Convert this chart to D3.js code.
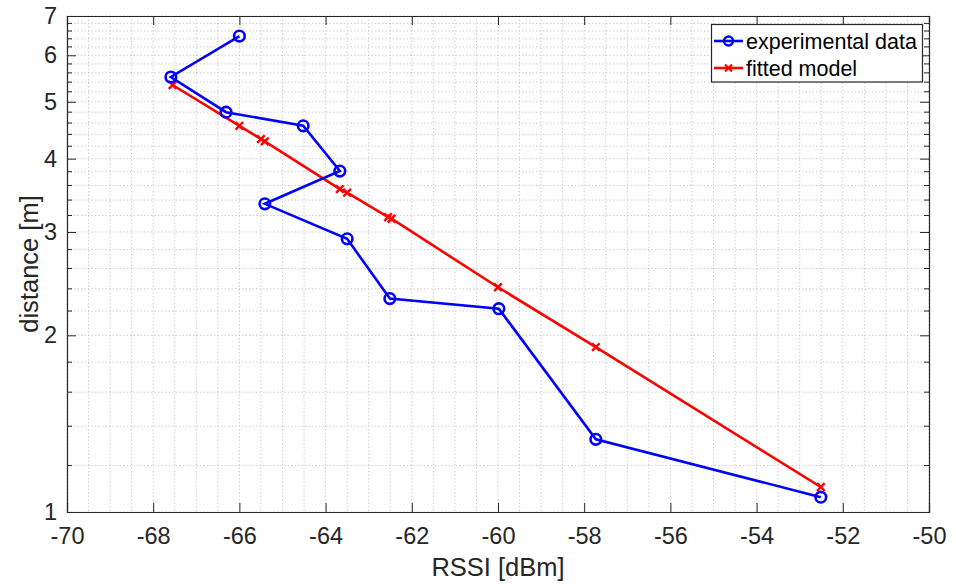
<!DOCTYPE html>
<html>
<head>
<meta charset="utf-8">
<script src="https://cdnjs.cloudflare.com/ajax/libs/d3/7.8.5/d3.min.js"></script>
<style>
  body { margin: 0; background: #fff; }
  text { font-family: "Liberation Sans", Arial, sans-serif; fill: #262626; }
</style>
</head>
<body>
<script>
// experimental data
var expRssi = [-66.0, -67.59, -66.31, -64.52, -63.67, -65.41, -63.5, -62.51, -59.98, -57.73, -52.51];
var expDist = [6.47, 5.51, 4.80, 4.55, 3.81, 3.35, 2.92, 2.31, 2.22, 1.33, 1.06];

// fitted model
var fitRssi = [-67.55, -66.0, -65.5, -65.41, -63.67, -63.5, -62.55, -62.47, -60.0, -57.73, -52.51];
var fitDist = [5.34, 4.55, 4.32, 4.28, 3.55, 3.50, 3.18, 3.16, 2.415, 1.91, 1.103];

var xTicks = [-70, -68, -66, -64, -62, -60, -58, -56, -54, -52, -50];
var yTicks = [1, 2, 3, 4, 5, 6, 7];
var seriesNames = ["experimental data", "fitted model"];

var width = 956, height = 585;
var pLeft = 67, pRight = 929, pTop = 16, pBottom = 512;

var svg = d3.select("body")
            .append("svg")
            .attr("width", width)
            .attr("height", height);

var x = d3.scaleLinear().domain([-70, -50]).range([pLeft, pRight]);
var y = d3.scaleLog().domain([1, 7]).range([pBottom, pTop]);

var fmt = function(d) { return String(d); };

// minor values
var xMinor = d3.range(-70, -49.99, 0.5);
var yMinor = [];
for (var v = 1.2; v < 7; v += 0.2) {
  var r = Math.round(v * 10) / 10;
  if (Math.abs(r - Math.round(r)) > 0.01) yMinor.push(r);
}

var grid = svg.append("g");
grid.selectAll(".gx")
    .data(xMinor)
    .enter()
    .append("line")
    .attr("x1", function(d) { return x(d); })
    .attr("x2", function(d) { return x(d); })
    .attr("y1", pTop)
    .attr("y2", pBottom)
    .attr("stroke", "#cfcfcf")
    .attr("stroke-width", 1)
    .attr("stroke-dasharray", "1.5,2");

grid.selectAll(".gy")
    .data(yMinor.concat(yTicks))
    .enter()
    .append("line")
    .attr("x1", pLeft)
    .attr("x2", pRight)
    .attr("y1", function(d) { return y(d); })
    .attr("y2", function(d) { return y(d); })
    .attr("stroke", "#cfcfcf")
    .attr("stroke-width", 1)
    .attr("stroke-dasharray", "1.5,2");

// axes
var axisColor = "#262626";

var xBottom = svg.append("g")
    .attr("transform", "translate(0," + pBottom + ")")
    .call(d3.axisBottom(x).tickValues(xTicks).tickSize(-9).tickPadding(15).tickFormat(fmt));
var xTop = svg.append("g")
    .attr("transform", "translate(0," + pTop + ")")
    .call(d3.axisTop(x).tickValues(xTicks).tickSize(-9).tickFormat(""));
var yLeft = svg.append("g")
    .attr("transform", "translate(" + pLeft + ",0)")
    .call(d3.axisLeft(y).tickValues(yTicks).tickSize(-9).tickPadding(10).tickFormat(fmt));
var yRight = svg.append("g")
    .attr("transform", "translate(" + pRight + ",0)")
    .call(d3.axisRight(y).tickValues(yTicks).tickSize(-9).tickFormat(""));

// minor y ticks
[[pLeft, 5], [pRight, -5]].forEach(function(s) {
  svg.append("g").selectAll("line")
     .data(yMinor)
     .enter()
     .append("line")
     .attr("x1", s[0])
     .attr("x2", s[0] + s[1])
     .attr("y1", function(d) { return y(d); })
     .attr("y2", function(d) { return y(d); })
     .attr("stroke", axisColor);
});

[xBottom, xTop, yLeft, yRight].forEach(function(a) {
  a.select(".domain").attr("stroke", axisColor).attr("stroke-width", 1.2);
  a.selectAll(".tick line").attr("stroke", axisColor);
  a.selectAll(".tick text")
   .attr("fill", axisColor)
   .style("font-family", "'Liberation Sans', Arial, sans-serif")
   .style("font-size", "23.5px");
});
xBottom.selectAll(".tick text").attr("dy", "0.71em");

// axis labels
svg.append("text")
   .attr("x", (pLeft + pRight) / 2)
   .attr("y", 576)
   .attr("text-anchor", "middle")
   .attr("font-size", "25.5px")
   .text("RSSI [dBm]");

svg.append("text")
   .attr("transform", "translate(38," + ((pTop + pBottom) / 2) + ") rotate(-90)")
   .attr("text-anchor", "middle")
   .attr("font-size", "25.5px")
   .text("distance [m]");

// lines
var line = d3.line()
    .x(function(d) { return x(d[0]); })
    .y(function(d) { return y(d[1]); });

var expPts = expRssi.map(function(d, i) { return [d, expDist[i]]; });
var fitPts = fitRssi.map(function(d, i) { return [d, fitDist[i]]; });

svg.append("path")
   .datum(fitPts)
   .attr("d", line)
   .attr("fill", "none")
   .attr("stroke", "#ff0000")
   .attr("stroke-width", 2.6);

svg.append("g").selectAll("path")
   .data(fitPts)
   .enter()
   .append("path")
   .attr("d", "M-3.8,-3.8L3.8,3.8M-3.8,3.8L3.8,-3.8")
   .attr("transform", function(d) { return "translate(" + x(d[0]) + "," + y(d[1]) + ")"; })
   .attr("stroke", "#ff0000")
   .attr("stroke-width", 2.4);

svg.append("path")
   .datum(expPts)
   .attr("d", line)
   .attr("fill", "none")
   .attr("stroke", "#0000ff")
   .attr("stroke-width", 2.6);

svg.append("g").selectAll("circle")
   .data(expPts)
   .enter()
   .append("circle")
   .attr("cx", function(d) { return x(d[0]); })
   .attr("cy", function(d) { return y(d[1]); })
   .attr("r", 5.3)
   .attr("fill", "none")
   .attr("stroke", "#0000ff")
   .attr("stroke-width", 2.6);

// legend
var lg = svg.append("g");
lg.append("rect")
  .attr("x", 711.5)
  .attr("y", 24.5)
  .attr("width", 211)
  .attr("height", 57.5)
  .attr("fill", "#fff")
  .attr("stroke", axisColor)
  .attr("stroke-width", 1.2);

var legendColors = ["#0000ff", "#ff0000"];
var rows = lg.selectAll(".row")
    .data(seriesNames)
    .enter()
    .append("g")
    .attr("transform", function(d, i) { return "translate(0," + (41 + i * 27) + ")"; });

rows.append("line")
    .attr("x1", 714)
    .attr("x2", 743)
    .attr("stroke", function(d, i) { return legendColors[i]; })
    .attr("stroke-width", 2.6);

rows.filter(function(d, i) { return i === 0; })
    .append("circle")
    .attr("cx", 728.5)
    .attr("r", 4.5)
    .attr("fill", "none")
    .attr("stroke", "#0000ff")
    .attr("stroke-width", 2.4);

rows.filter(function(d, i) { return i === 1; })
    .append("path")
    .attr("d", "M725,-3.5L732,3.5M725,3.5L732,-3.5")
    .attr("stroke", "#ff0000")
    .attr("stroke-width", 2.2);

rows.append("text")
    .attr("x", 746)
    .attr("y", 0)
    .attr("dy", "0.35em")
    .attr("font-size", "21.5px")
    .style("fill", "#000")
    .text(function(d) { return d; });
</script>
</body>
</html>
